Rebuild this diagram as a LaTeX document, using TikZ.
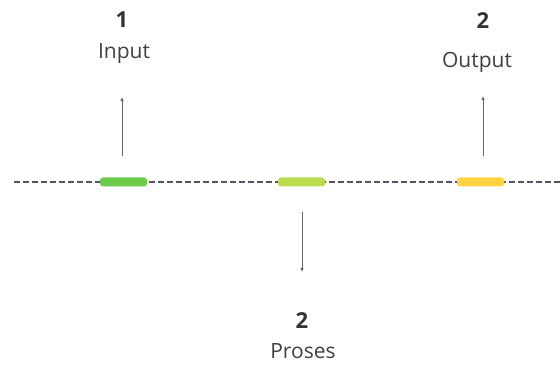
\documentclass[tikz,border=0pt]{standalone}
\usepackage{fontspec}
\setmainfont{Open Sans}
\usetikzlibrary{arrows.meta}
\definecolor{barA}{HTML}{6CCB48}
\definecolor{barB}{HTML}{B9DC4E}
\definecolor{barC}{HTML}{FFD340}
\definecolor{lineC}{HTML}{555566}
\begin{document}
\begin{tikzpicture}[x=1pt,y=-1pt,
  bar/.style={rounded corners=3pt,minimum width=47pt,minimum height=9pt,inner sep=0pt},
  num/.style={font=\fontsize{22}{22}\selectfont\bfseries,text=black!80,inner sep=0pt,anchor=base},
  lbl/.style={font=\fontsize{21}{21}\selectfont,text=black!75,inner sep=0pt,anchor=base},
  conn/.style={draw=black!60,line width=0.9pt,-{Latex[length=4pt,width=3.5pt]}}]
\useasboundingbox (0,0) rectangle (560,366);
\draw[lineC,line width=1.6pt,dash pattern=on 6pt off 3pt] (14,182) -- (560,182);
\node[bar,fill=barA] (b1) at (123.5,182) {};
\node[bar,fill=barB] (b2) at (301.5,182) {};
\node[bar,fill=barC] (b3) at (480.5,182) {};
\coordinate (a1s) at (122,156);
\coordinate (a1e) at (122,97);
\coordinate (a3s) at (483,156);
\coordinate (a3e) at (483,96);
\coordinate (a2s) at (302,212);
\coordinate (a2e) at (302,272);
\draw[conn] (a1s) -- (a1e);
\draw[conn] (a3s) -- (a3e);
\draw[conn] (a2s) -- (a2e);
\node[num] (n1) at (122,28) {1};
\node[lbl] (l1) at (124,59) {Input};
\node[num] (n3) at (483,29) {2};
\node[lbl] (l3) at (477,68) {Output};
\node[num] (n2) at (302,328) {2};
\node[lbl] (l2) at (303,359) {Proses};
\end{tikzpicture}
\end{document}
